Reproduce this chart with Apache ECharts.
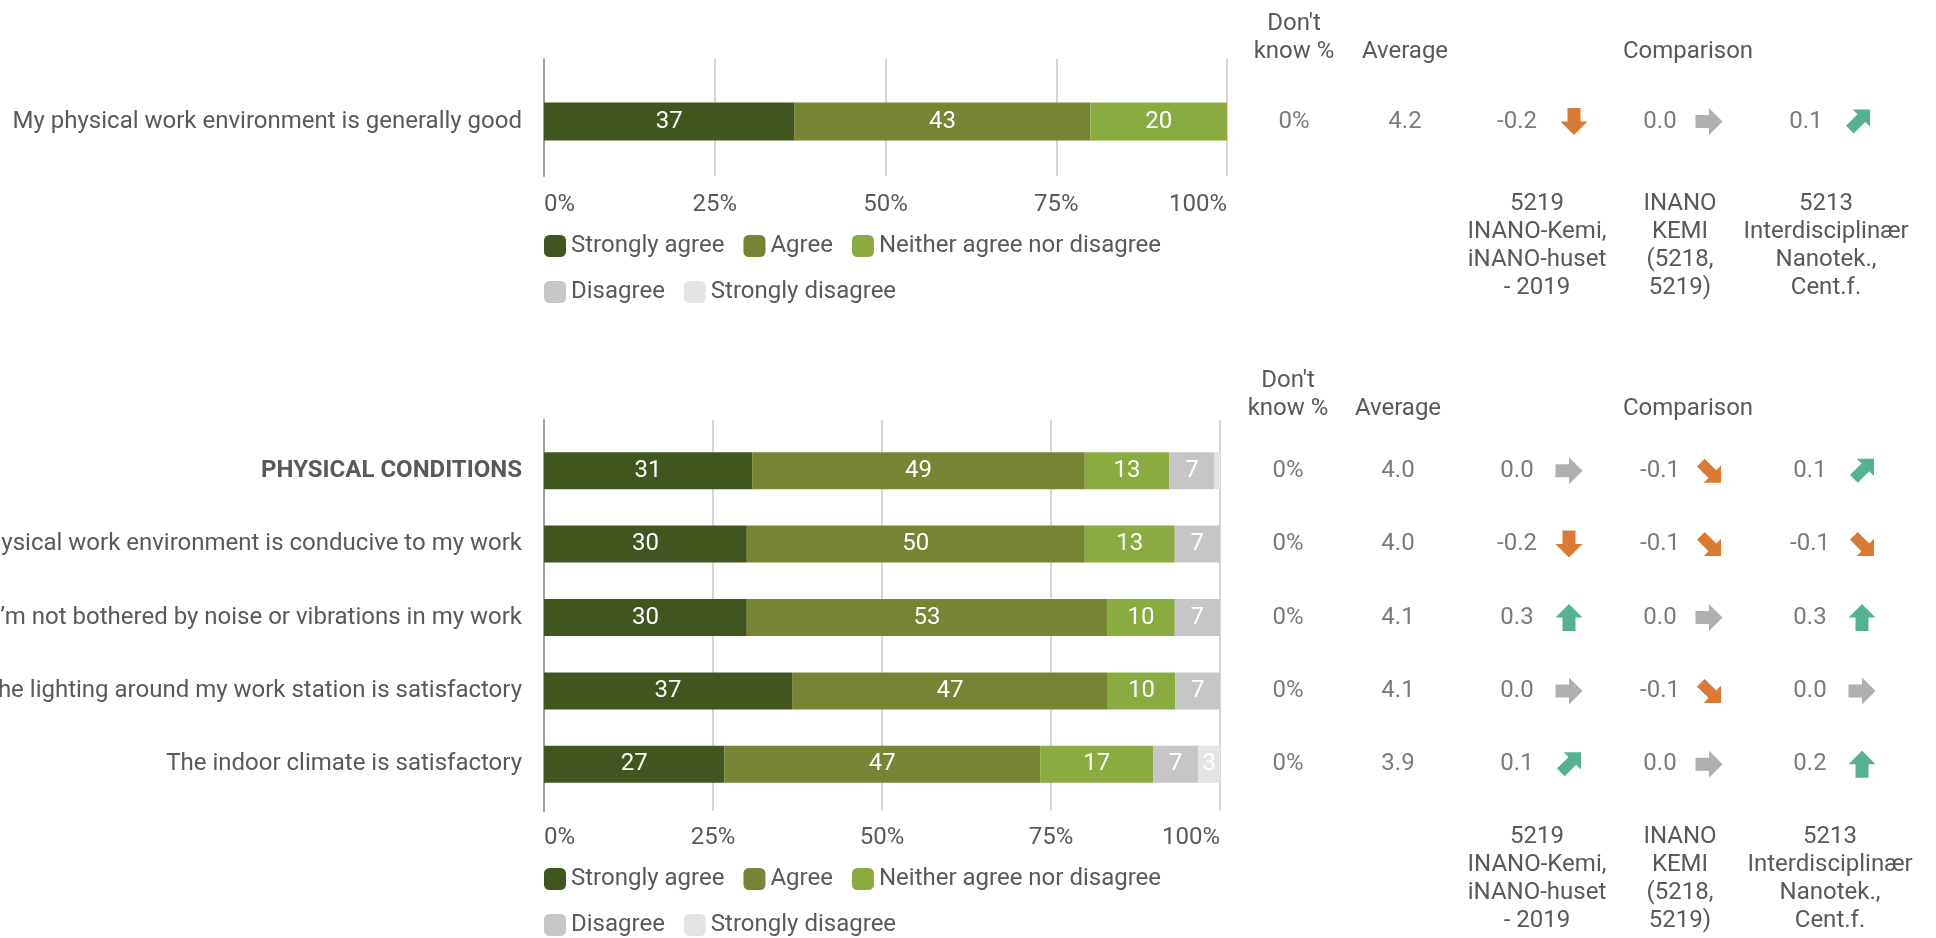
<!DOCTYPE html>
<html>
<head>
<meta charset="utf-8">
<title>Physical work environment</title>
<script src="https://cdn.jsdelivr.net/npm/echarts@6/dist/echarts.min.js"></script>
<style>
html, body { margin: 0; padding: 0; background: #fff; }
#chart { width: 1936px; height: 938px; }
</style>
</head>
<body>
<div id="chart"></div>
<script>
// answer scale, best to worst
const levels = ['Strongly agree', 'Agree', 'Neither agree nor disagree', 'Disagree', 'Strongly disagree']
const levelColors = ['#41561f', '#768434', '#8aab3f', '#c6c6c6', '#e4e4e4']

// top block: overall question (% of answers)
const topRows = ['My physical work environment is generally good']
const topStronglyAgree = [36.7]
const topAgree = [43.3]
const topNeither = [20.0]
const topDisagree = [0]
const topStronglyDisagree = [0]
const topDontKnow = [0]
const topAverage = [4.2]
const topCmp1 = [-0.2]
const topCmp2 = [0.0]
const topCmp3 = [0.1]

// bottom block
const bottomRows = [
    'PHYSICAL CONDITIONS',
    'The physical work environment is conducive to my work',
    'I’m not bothered by noise or vibrations in my work',
    'The lighting around my work station is satisfactory',
    'The indoor climate is satisfactory'
]
const bottomStronglyAgree = [30.8, 30.0, 30.0, 36.7, 26.7]
const bottomAgree = [49.2, 50.0, 53.3, 46.7, 46.7]
const bottomNeither = [12.5, 13.3, 10.0, 10.0, 16.7]
const bottomDisagree = [6.7, 6.7, 6.7, 6.7, 6.7]
const bottomStronglyDisagree = [0.8, 0, 0, 0, 3.3]
const bottomDontKnow = [0, 0, 0, 0, 0]
const bottomAverage = [4.0, 4.0, 4.1, 4.1, 3.9]
const bottomCmp1 = [0.0, -0.2, 0.3, 0.0, 0.1]
const bottomCmp2 = [-0.1, -0.1, 0.0, -0.1, 0.0]
const bottomCmp3 = [0.1, -0.1, 0.3, 0.0, 0.2]

// table columns right of the bars
const columnKeys = ['dontKnow', 'average', 'cmp1', 'cmp2', 'cmp3']
const columnHeaders = ["Don't\nknow %", 'Average', '', 'Comparison', '']
const columnFooters = ['', '', '5219\nINANO-Kemi,\niNANO-huset\n- 2019', 'INANO\nKEMI\n(5218,\n5219)', '5213\nInterdisciplinær\nNanotek.,\nCent.f.']
const headerNudge = [0, 0, 0, 16, 0]   // extra left padding on a header, px

const FONT = 'Roboto, "Noto Sans", sans-serif'
const TEXT = '#595959'
const FS = 24
const ORANGE = '#d25a00'
const GRAY = '#999b9e'
const GREEN = '#2a9d78'

const straightArrow = 'path://M0,7H13.5V0L27,13.5L13.5,27V20H0Z'
const diagonalArrow = 'path://M7,0H25V18L20,13L8,25L0,17L12,5Z'

function arrowFor(v) {
    const r = Math.round(v * 10)
    if (r <= -2) return { symbol: straightArrow, size: 27, rotate: -90, color: ORANGE }
    if (r === -1) return { symbol: diagonalArrow, size: 24, rotate: -90, color: ORANGE }
    if (r === 0) return { symbol: straightArrow, size: 27, rotate: 0, color: GRAY }
    if (r === 1) return { symbol: diagonalArrow, size: 24, rotate: 0, color: GREEN }
    return { symbol: straightArrow, size: 27, rotate: 90, color: GREEN }
}

const blocks = [
    {
        rows: topRows,
        shares: [topStronglyAgree, topAgree, topNeither, topDisagree, topStronglyDisagree],
        columns: [topDontKnow, topAverage, topCmp1, topCmp2, topCmp3],
        boldFirst: false,
        frame: { top: 59, height: 117, width: 683 },
        bars: { top: 63, height: 117 },
        barWidth: 38,
        tickMargin: 15, headMargin: -3, footMargin: 10,
        colX: [1294, 1405, 1537, 1680, 1826],
        arrowShift: [37, 29, 32],
        legendTop: [232, 278]
    },
    {
        rows: bottomRows,
        shares: [bottomStronglyAgree, bottomAgree, bottomNeither, bottomDisagree, bottomStronglyDisagree],
        columns: [bottomDontKnow, bottomAverage, bottomCmp1, bottomCmp2, bottomCmp3],
        boldFirst: true,
        frame: { top: 420, height: 391, width: 676 },
        bars: { top: 434, height: 367 },
        barWidth: 37,
        tickMargin: 13, headMargin: 11, footMargin: 22,
        colX: [1288, 1398, 1537, 1680, 1830],
        arrowShift: [32, 29, 32],
        legendTop: [865, 911]
    }
]

const PLOT_LEFT = 544
const textStyle = { fontSize: FS, color: TEXT, fontFamily: FONT }

const grid = [], xAxis = [], yAxis = [], series = [], legend = []

function addGrid(g) {
    grid.push(Object.assign({ containLabel: false, outerBoundsMode: 'none' }, g))
    return grid.length - 1
}

blocks.forEach((b, bi) => {
    // frame: vertical axis line, gridlines and % ticks
    const gF = addGrid({ left: PLOT_LEFT, top: b.frame.top, width: b.frame.width, height: b.frame.height })
    xAxis.push({
        gridIndex: gF, type: 'value', min: 0, max: 100, interval: 25,
        axisLine: { show: false }, axisTick: { show: false },
        splitLine: { show: true, lineStyle: { color: '#c8c8c8', width: 1.5 } },
        axisLabel: Object.assign({ formatter: '{value}%', margin: b.tickMargin, lineHeight: 28,
            alignMinLabel: 'left', alignMaxLabel: 'right' }, textStyle)
    })
    yAxis.push({
        gridIndex: gF, type: 'category', data: [''],
        axisLine: { show: true, lineStyle: { color: '#9e9e9e', width: 2 } },
        axisTick: { show: false }, axisLabel: { show: false }, splitLine: { show: false }
    })

    // stacked bars
    const gB = addGrid({ left: PLOT_LEFT, top: b.bars.top, width: b.frame.width, height: b.bars.height })
    const xB = xAxis.length
    xAxis.push({ gridIndex: gB, type: 'value', min: 0, max: 100, show: false })
    const yB = yAxis.length
    yAxis.push({
        gridIndex: gB, type: 'category', data: b.rows, inverse: true,
        axisLine: { show: false }, axisTick: { show: false },
        axisLabel: Object.assign({
            margin: 22,
            formatter: (v, i) => (b.boldFirst && i === 0 ? `{b|${v}}` : v),
            rich: { b: Object.assign({ fontWeight: 'bold' }, textStyle) }
        }, textStyle)
    })
    levels.forEach((name, j) => {
        series.push({
            type: 'bar', name, stack: 'block' + bi, xAxisIndex: xB, yAxisIndex: yB,
            barWidth: b.barWidth, data: b.shares[j],
            itemStyle: { color: levelColors[j] },
            label: {
                show: true, position: 'inside', color: '#fff', fontSize: FS, fontFamily: FONT,
                formatter: p => (p.value >= 2 ? String(Math.round(p.value)) : '')
            },
            silent: true
        })
    })

    legend.push(
        { left: PLOT_LEFT, top: b.legendTop[0], data: levels.slice(0, 3) },
        { left: PLOT_LEFT, top: b.legendTop[1], data: levels.slice(3) }
    )

    // table columns
    columnKeys.forEach((key, c) => {
        const g = addGrid({ left: b.colX[c] - 65, width: 130, top: b.bars.top, height: b.bars.height })
        const xTop = xAxis.length
        xAxis.push({
            gridIndex: g, type: 'category', position: 'top', data: [key],
            axisLine: { show: false }, axisTick: { show: false },
            axisLabel: Object.assign({
                formatter: () => columnHeaders[c], margin: b.headMargin, lineHeight: 28,
                padding: [0, 0, 0, headerNudge[c]]
            }, textStyle)
        })
        xAxis.push({
            gridIndex: g, type: 'category', position: 'bottom', data: [key],
            axisLine: { show: false }, axisTick: { show: false },
            axisLabel: Object.assign({ formatter: () => columnFooters[c], margin: b.footMargin, lineHeight: 28 }, textStyle)
        })
        const yT = yAxis.length
        yAxis.push({ gridIndex: g, type: 'category', data: b.rows, inverse: true, show: false })

        const vals = b.columns[c]
        const isCmp = c >= 2
        series.push({
            type: 'scatter', xAxisIndex: xTop, yAxisIndex: yT, silent: true,
            symbol: 'circle', symbolSize: 1, itemStyle: { color: 'rgba(0,0,0,0)' },
            data: b.rows.map((r, i) => [key, r, vals[i]]),
            label: Object.assign({
                show: true, position: 'inside', offset: [isCmp ? -20 : 0, 0],
                formatter: p => (c === 0 ? p.value[2] + '%' : p.value[2].toFixed(1))
            }, textStyle)
        })
        if (isCmp) {
            series.push({
                type: 'scatter', xAxisIndex: xTop, yAxisIndex: yT, silent: true,
                symbolOffset: [b.arrowShift[c - 2], 0],
                data: b.rows.map((r, i) => {
                    const a = arrowFor(vals[i])
                    return {
                        value: [key, r, vals[i]],
                        symbol: a.symbol, symbolSize: a.size, symbolRotate: a.rotate,
                        itemStyle: { color: a.color }
                    }
                })
            })
        }
    })
})

legend.forEach(l => Object.assign(l, {
    orient: 'horizontal', icon: 'roundRect', itemWidth: 22, itemHeight: 22, itemGap: 19,
    padding: 0, selectedMode: false, textStyle: Object.assign({ lineHeight: 28 }, textStyle)
}))

const chart = echarts.init(document.getElementById('chart'))
chart.setOption({
    backgroundColor: '#fff',
    animation: false,
    textStyle: { fontFamily: FONT },
    grid, xAxis, yAxis, legend, series
})
window.addEventListener('resize', () => chart.resize())
</script>
</body>
</html>
